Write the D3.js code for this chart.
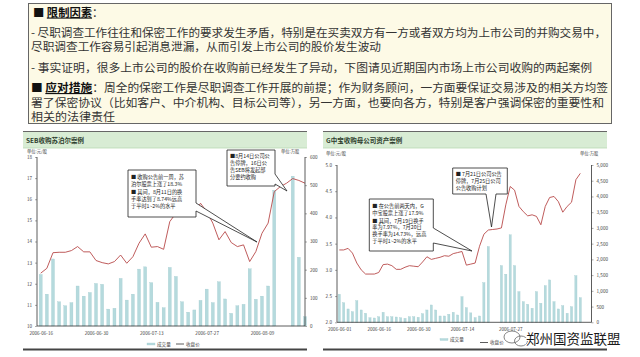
<!DOCTYPE html>
<html><head><meta charset="utf-8">
<script src="https://cdn.jsdelivr.net/npm/d3@7"></script>
<style>body{margin:0;background:#fff}svg{display:block}text{font-family:"Noto Sans CJK SC","Noto Sans",sans-serif}</style>
</head><body><svg id="c" width="640" height="357"></svg>
<script>
// ---------- data ----------
const introLines = [
  {head:"限制因素", text:"："},
  {text:"- 尽职调查工作往往和保密工作的要求发生矛盾，特别是在买卖双方有一方或者双方均为上市公司的并购交易中，"},
  {text:"尽职调查工作容易引起消息泄漏，从而引发上市公司的股价发生波动"},
  {text:"- 事实证明，很多上市公司的股价在收购前已经发生了异动，下图请见近期国内市场上市公司收购的两起案例"},
  {head:"应对措施", text:"：周全的保密工作是尽职调查工作开展的前提；作为财务顾问，一方面要保证交易涉及的相关方均签"},
  {text:"署了保密协议（比如客户、中介机构、目标公司等），另一方面，也要向各方，特别是客户强调保密的重要性和"},
  {text:"相关的法律责任"}
];

const sebTitle = "SEB收购苏泊尔案例";
const sebDates = ["2006-06-16","2006-06-19","2006-06-20","2006-06-21","2006-06-22","2006-06-23","2006-06-26","2006-06-27","2006-06-28","2006-06-30",
  "2006-07-03","2006-07-04","2006-07-05","2006-07-06","2006-07-07","2006-07-10","2006-07-11","2006-07-12","2006-07-13","2006-07-14",
  "2006-07-17","2006-07-18","2006-07-19","2006-07-20","2006-07-24","2006-07-25","2006-07-26","2006-07-27","2006-07-28","2006-07-31",
  "2006-08-01","2006-08-02","2006-08-03","2006-08-04","2006-08-07","2006-08-08","2006-08-09","2006-08-10","2006-08-11","2006-08-14",
  "2006-08-15","2006-08-16","2006-08-17","2006-08-18"];
const sebVolume = [183,113,238,86,72,83,142,106,119,151, 148,60,63,169,92,113,202,210,154,84,
  65,208,176,86,49,57,91,131,83,157, 96,45,72,77,203,95,106,142,482,null, null,532,244,33];
const sebClose = [12.50,12.73,13.47,13.49,13.49,13.57,13.76,13.51,13.51,13.10, 13.00,12.94,13.05,13.36,12.97,13.28,13.92,14.36,13.73,13.76,
  13.63,14.94,15.34,15.42,15.31,15.37,15.81,15.42,14.87,14.08, 14.47,13.95,13.76,13.84,13.05,13.52,14.39,14.87,16.36,16.60,
  16.76,16.98,16.89,16.76];
const sebXTicks = ["2006-06-16","2006-06-30","2006-07-13","2006-07-27","2006-08-09"];
const sebPriceTicks = [10,11,12,13,14,15,16,17,18];
const sebVolTicks = [0,100,200,300,400,500,600];
const sebNotes = [
  ["■ 收购公告前一周，苏","泊尔股票上涨了18.3%","■ 其间，8月11日的换","手率达到了8.74%远高","于平时1~2%的水平"],
  ["■8月14日公司公","告停牌，16日公","告SEB将发起部","分要约收购"]
];

const gzbTitle = "G中宝收购母公司资产案例";
const gzbDates = ["2006-06-01","2006-06-02","2006-06-05","2006-06-06","2006-06-07","2006-06-08","2006-06-09","2006-06-12","2006-06-13","2006-06-16",
  "2006-06-19","2006-06-20","2006-06-21","2006-06-22","2006-06-23","2006-06-26","2006-06-27","2006-06-28","2006-06-30","2006-07-03",
  "2006-07-04","2006-07-05","2006-07-06","2006-07-07","2006-07-10","2006-07-11","2006-07-12","2006-07-13","2006-07-14","2006-07-17",
  "2006-07-18","2006-07-19a","2006-07-19","2006-07-20a","2006-07-20","2006-07-21","2006-07-24","2006-07-25","2006-07-26","2006-07-27",
  "2006-07-28","2006-07-31","2006-08-01","2006-08-02","2006-08-03","2006-08-04","2006-08-07","2006-08-08","2006-08-09","2006-08-10",
  "2006-08-11","2006-08-14","2006-08-15","2006-08-16","2006-08-17","2006-08-18"];
const gzbVolume = [892,624,424,338,688,392,287,146,137,178, 318,178,178,169,146,127,178,178,159,275,
  392,551,392,201,201,255,318,233,815,465, 300,150,201,1261,2408,null,null,1803,1529,2780,
  1803,975,656,573,446,975,605,1166,1347,656, 424,529,287,497,1484,783];
const gzbClose = [3.38,3.38,3.41,3.32,3.13,3.00,2.92,2.92,2.92,2.95, 3.10,3.11,3.08,3.01,3.01,3.05,3.08,3.07,3.06,3.15,
  3.25,3.20,3.22,3.24,3.27,3.26,3.31,3.33,3.35,3.09, 3.11,3.13,3.45,3.68,3.76,3.77,3.78,3.80,4.24,4.59,
  4.52,4.21,4.11,4.03,4.05,4.02,3.86,4.21,4.38,4.40, 4.30,4.10,4.21,4.29,4.72,4.84];
const gzbXTicks = ["2006-06-01","2006-06-16","2006-06-30","2006-07-14","2006-07-27"];
const gzbPriceTicks = [2.0,2.5,3.0,3.5,4.0,4.5,5.0];
const gzbVolTicks = [0,500,1000,1500,2000,2500,3000,3500,4000,4500,5000];
const gzbNotes = [
  ["■ 7月21日公司公告","停牌，7月25日公司","公告收购计划"],
  ["■ 在公告前两天内，G","中宝股票上涨了17.9%","■ 其间，7月19日换手","率为7.97%，7月20日","换手率为14.73%，远高","于平时1~2%的水平"]
];
const legendLabels = ["成交量","收盘价"];
const unitLabels = ["单位:元/股","单位:万股"];
const watermarkText = "郑州国资监联盟";

// ---------- drawing ----------
const svg = d3.select("#c");
const BAR = "#b5dadd", BAR_S = "#9ec9cd", LINE = "#b84a4a";

// intro box
svg.append("rect").attr("x",28.5).attr("y",3.5).attr("width",583).attr("height",120)
  .attr("fill","#fdfae6").attr("stroke","#666").attr("stroke-width",1);
const introY = [16.5,36.5,51,72,92,106.5,121];
const introX = [33,31,31,31,31,31,31];
const introLen = [null,575,350,561,577,573,84];
introLines.forEach((l,i)=>{
  const t = svg.append("text").attr("x",introX[i]).attr("y",introY[i]).attr("font-size",11.3).attr("fill","#333");
  if(l.head){
    t.append("tspan").attr("fill","#111").text("■ ");
    t.append("tspan").attr("font-weight","bold").attr("fill","#111").attr("text-decoration","underline").text(l.head);
    t.append("tspan").text(l.text);
    if(i===4) t.attr("textLength",introLen[i]).attr("lengthAdjust","spacingAndGlyphs");
  } else {
    t.text(l.text);
    if(introLen[i]) t.attr("textLength",introLen[i]).attr("lengthAdjust","spacingAndGlyphs");
  }
});

function callout(g, box, wedge, lines, fs, lh, gaps){
  const [x0,y0,x1,y1] = box;
  let d;
  if(wedge.side==="right"){
    d = `M${x0},${y0}H${x1}V${wedge.a}L${wedge.tx},${wedge.ty}L${x1},${wedge.b}V${y1}H${x0}Z`;
  } else {
    d = `M${x0},${y0}H${x1}V${y1}H${wedge.b}L${wedge.tx},${wedge.ty}L${wedge.a},${y1}H${x0}Z`;
  }
  g.append("path").attr("d",d).attr("fill","#fff").attr("stroke","#222").attr("stroke-width",0.8);
  let y = y0 + lh.first;
  lines.forEach((s,i)=>{
    if(gaps && gaps.includes(i)) y += lh.gap;
    g.append("text").attr("x",x0+3).attr("y",y).attr("font-size",fs).attr("fill","#222").text(s);
    y += lh.step;
  });
}

function panel(cfg){
  const g = svg.append("g");
  g.append("rect").attr("x",cfg.px0).attr("y",132).attr("width",cfg.px1-cfg.px0).attr("height",16).attr("fill","#d8ecd4");
  g.append("line").attr("x1",cfg.px0).attr("x2",cfg.px1).attr("y1",131.5).attr("y2",131.5).attr("stroke","#666").attr("stroke-width",1.2);
  g.append("line").attr("x1",cfg.px0).attr("x2",cfg.px1).attr("y1",148).attr("y2",148).attr("stroke","#b9d9b3").attr("stroke-width",0.8);
  g.append("text").attr("x",cfg.px0+3).attr("y",142.5).attr("font-size",6.5).attr("font-weight","bold").attr("fill","#2d3d2d").text(cfg.title);
  g.append("line").attr("x1",cfg.px0).attr("x2",cfg.px1).attr("y1",349.5).attr("y2",349.5).attr("stroke","#444").attr("stroke-width",1.8);
  g.append("text").attr("x",cfg.unitL[0]).attr("y",cfg.unitL[1]).attr("font-size",4.3).attr("fill","#444").text(unitLabels[0]);
  g.append("text").attr("x",cfg.unitR[0]).attr("y",cfg.unitR[1]).attr("font-size",4.3).attr("fill","#444").text(unitLabels[1]);

  const x = d3.scalePoint().domain(cfg.dates).range([cfg.xr0, cfg.xr1]);
  const yP = d3.scaleLinear().domain(cfg.pDom).range([cfg.yBot, cfg.yTop]);
  const yV = d3.scaleLinear().domain(cfg.vDom).range([cfg.yBot, cfg.yTop]);

  const bw = cfg.bw;
  g.append("g").selectAll("rect").data(cfg.dates.map((d,i)=>({d,v:cfg.vol[i]})).filter(o=>o.v!=null))
    .join("rect").attr("x",o=>x(o.d)-bw/2).attr("width",bw)
    .attr("y",o=>yV(o.v)).attr("height",o=>cfg.yBot-yV(o.v))
    .attr("fill",BAR).attr("stroke",BAR_S).attr("stroke-width",0.3);
  const line = d3.line().x((d,i)=>x(cfg.dates[i])).y(d=>yP(d));
  g.append("path").attr("d",line(cfg.close)).attr("fill","none").attr("stroke",LINE).attr("stroke-width",0.9);

  const axL = g.append("g").attr("transform",`translate(${cfg.axL},0)`)
    .call(d3.axisLeft(yP).tickValues(cfg.pTicks).tickSize(2).tickPadding(3).tickFormat(cfg.pFmt));
  const axR = g.append("g").attr("transform",`translate(${cfg.axR},0)`)
    .call(d3.axisRight(yV).tickValues(cfg.vTicks).tickSize(2).tickPadding(3).tickFormat(cfg.vFmt));
  [axL,axR].forEach(a=>{
    a.select(".domain").remove();
    a.selectAll(".tick line").attr("stroke","#555").attr("stroke-width",0.5);
    a.selectAll(".tick text").attr("font-size",4.6).attr("fill","#444").attr("font-family","Arial, 'Liberation Sans', sans-serif");
  });
  g.append("line").attr("x1",cfg.axL).attr("x2",cfg.axL).attr("y1",cfg.yTop).attr("y2",cfg.yBot).attr("stroke","#333").attr("stroke-width",0.8);
  g.append("line").attr("x1",cfg.axR).attr("x2",cfg.axR).attr("y1",cfg.yTop).attr("y2",cfg.yBot).attr("stroke","#333").attr("stroke-width",0.8);
  g.append("line").attr("x1",cfg.axL).attr("x2",cfg.axR).attr("y1",cfg.yBot).attr("y2",cfg.yBot).attr("stroke","#333").attr("stroke-width",0.8);
  const axB = g.append("g").attr("transform",`translate(0,${cfg.yBot})`)
    .call(d3.axisBottom(x).tickValues(cfg.xTicks).tickSize(0).tickPadding(cfg.xPad));
  axB.select(".domain").remove();
  axB.selectAll(".tick text").attr("font-size",4.6).attr("fill","#444").attr("font-family","Arial, 'Liberation Sans', sans-serif");

  const lg = cfg.legend;
  g.append("rect").attr("x",lg.x1).attr("y",lg.y1-1).attr("width",8).attr("height",2).attr("fill",BAR).attr("stroke",BAR_S).attr("stroke-width",0.3);
  g.append("text").attr("x",lg.x1+10).attr("y",lg.y1+1.7).attr("font-size",4.6).attr("fill","#444").text(legendLabels[0]);
  g.append("line").attr("x1",lg.x2).attr("x2",lg.x2+8).attr("y1",lg.y2).attr("y2",lg.y2).attr("stroke","#333").attr("stroke-width",0.8);
  g.append("text").attr("x",lg.x2+10).attr("y",lg.y2+1.7).attr("font-size",4.6).attr("fill","#444").text(legendLabels[1]);
  return g;
}

const g1 = panel({px0:23,px1:307,title:sebTitle,dates:sebDates,vol:sebVolume,close:sebClose,
  xr0:40.7,xr1:305,yBot:326,yTop:157,pDom:[10,18],vDom:[0,600],bw:3,
  axL:37,axR:305,pTicks:sebPriceTicks,vTicks:sebVolTicks,pFmt:d3.format("d"),vFmt:d3.format("d"),
  xTicks:sebXTicks,xPad:6,unitL:[27,153],unitR:[281,153],legend:{x1:147,y1:344,x2:176,y2:344}});
callout(g1,[128,170,196,217],{side:"right",a:203,b:211,tx:257,ty:242},sebNotes[0],5.2,{first:8.5,step:7,gap:1.5},[2]);
callout(g1,[227,150,275,186],{side:"right",a:174,b:184,tx:287,ty:191},sebNotes[1],5.2,{first:7.5,step:7.2},null);

const g2 = panel({px0:323,px1:607,title:gzbTitle,dates:gzbDates,vol:gzbVolume,close:gzbClose,
  xr0:339.3,xr1:580.3,yBot:322.3,yTop:165,pDom:[2,5],vDom:[0,5000],bw:2.2,
  axL:337,axR:591.5,pTicks:gzbPriceTicks,vTicks:gzbVolTicks,pFmt:d3.format(".1f"),vFmt:d3.format(","),
  xTicks:gzbXTicks,xPad:5,unitL:[326,155],unitR:[580,155],legend:{x1:440,y1:339.5,x2:480,y2:342.5}});
callout(g2,[452.7,168,507.3,194],{side:"bottom",a:486,b:496,tx:491.5,ty:227},gzbNotes[0],5.2,{first:7.8,step:7},null);
callout(g2,[369.3,199,433.3,251],{side:"right",a:228,b:243,tx:472,ty:251},gzbNotes[1],5.2,{first:9,step:6.6,gap:1.5},[2]);

// watermark overlay (bottom right), kept clear of the axis texts
const wm = svg.append("g");
wm.append("ellipse").attr("cx",512).attr("cy",337).attr("rx",8).attr("ry",6).attr("fill","none").attr("stroke","#666").attr("stroke-width",0.8);
wm.append("ellipse").attr("cx",521).attr("cy",341).attr("rx",6.5).attr("ry",5).attr("fill","none").attr("stroke","#666").attr("stroke-width",0.8);
wm.append("text").attr("x",526).attr("y",344).attr("font-size",13.5).attr("fill","#1a1a1a")
  .attr("stroke","#fff").attr("stroke-width",2).attr("paint-order","stroke").text(watermarkText);
</script></body></html>
